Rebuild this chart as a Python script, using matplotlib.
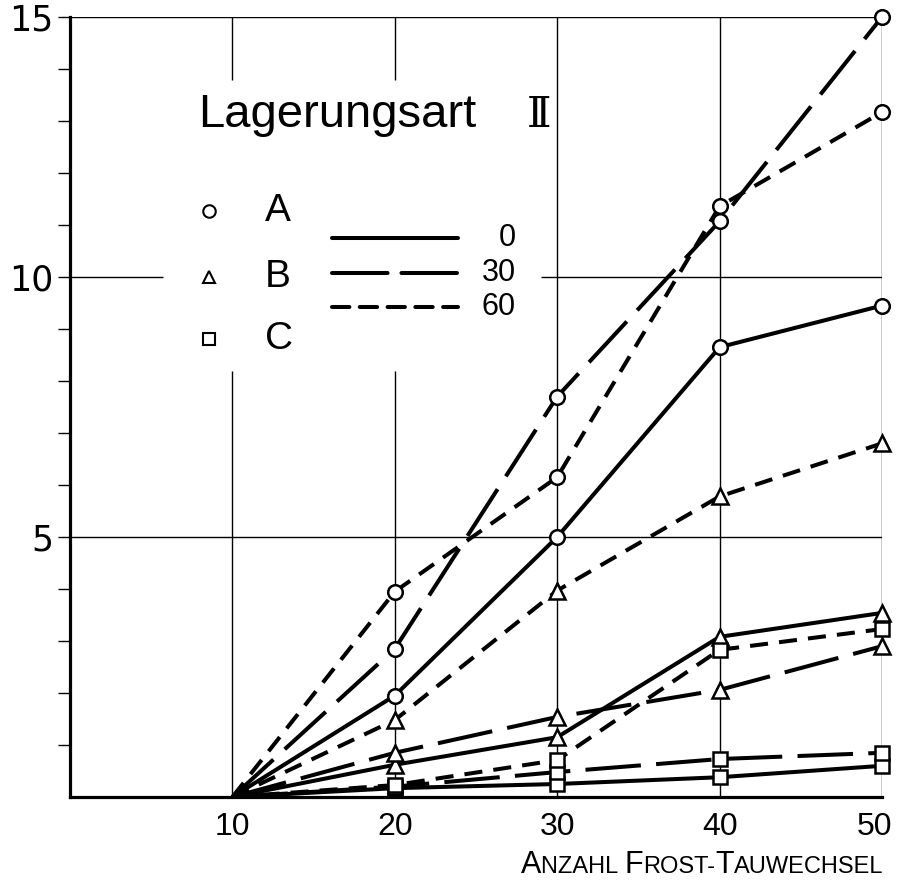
import matplotlib
matplotlib.use("Agg")
import matplotlib.pyplot as plt
from matplotlib import font_manager
from matplotlib.transforms import ScaledTranslation


def pick_font(names):
    for n in names:
        try:
            font_manager.findfont(n, fallback_to_default=False)
            return n
        except Exception:
            pass
    return "DejaVu Sans"


plt.rcParams["lines.scale_dashes"] = False
main_font = pick_font(["Liberation Sans", "DejaVu Sans"])
narrow_font = pick_font(["Liberation Sans Narrow", "Liberation Sans", "DejaVu Sans"])

# Anzahl Frost-Tauwechsel
x = [10, 20, 30, 40, 50]

# Lagerungsart II, Sorten A / B / C, Kurven 0 / 30 / 60
a_0 = [0, 1.95, 5.0, 8.65, 9.45]
a_30 = [0, 2.85, 7.7, 11.07, 15.0]
a_60 = [0, 3.95, 6.15, 11.36, 13.17]
b_0 = [0, 0.62, 1.15, 3.08, 3.54]
b_30 = [0, 0.85, 1.54, 2.06, 2.9]
b_60 = [0, 1.48, 3.97, 5.78, 6.8]
c_0 = [0, 0.17, 0.25, 0.38, 0.6]
c_30 = [0, 0.2, 0.48, 0.73, 0.85]
c_60 = [0, 0.23, 0.71, 2.83, 3.23]

sorts = ["A", "B", "C"]
markers = {"A": "o", "B": "^", "C": "s"}
curves = ["0", "30", "60"]
dashes = {"0": "-", "30": (0, (40, 11)), "60": (0, (13, 8))}
series = {
    ("A", "0"): a_0, ("A", "30"): a_30, ("A", "60"): a_60,
    ("B", "0"): b_0, ("B", "30"): b_30, ("B", "60"): b_60,
    ("C", "0"): c_0, ("C", "30"): c_30, ("C", "60"): c_60,
}

fig = plt.figure(figsize=(8.98, 8.82), dpi=100)
W, H = 898, 882
x0, x1, y0, y1 = 70, 882, 797, 17
ax = fig.add_axes([x0 / W, (H - y0) / H, (x1 - x0) / W, (y0 - y1) / H])
ax.set_xlim(0, 50)
ax.set_ylim(0, 15)

# grid (partly hidden behind the legend block)
glw = 1.0
ax.vlines([10, 20], 0, 8.2, color="black", lw=glw, zorder=1)
ax.vlines([10, 20], 13.78, 15, color="black", lw=glw, zorder=1)
ax.vlines([30, 40, 50], 0, 15, color="black", lw=glw, zorder=1)
ax.hlines([5, 15], 0, 50, color="black", lw=glw, zorder=1)
ax.hlines(10, 0, 5.7, color="black", lw=glw, zorder=1)
ax.hlines(10, 29.0, 50, color="black", lw=glw, zorder=1)

for (s, c), vals in series.items():
    ax.plot(x, vals, color="black", lw=2.9, ls=dashes[c], solid_capstyle="butt",
            dash_capstyle="butt", zorder=2, clip_on=False)
    ax.plot(x[1:], vals[1:], ls="none", marker=markers[s], ms=10.5 if s != "B" else 11,
            mfc="white", mec="black", mew=1.8, zorder=3, clip_on=False)

# spines / ticks
for side in ["top", "right"]:
    ax.spines[side].set_visible(False)
ax.spines["left"].set_linewidth(2.3)
ax.spines["bottom"].set_linewidth(2.3)
ax.set_xticks([10, 20, 30, 40, 50])
ax.set_xticklabels(["10", "20", "30", "40", "50"], fontfamily=narrow_font, fontsize=23)
ax.tick_params(axis="x", length=0, pad=11)
last = ax.get_xticklabels()[-1]
last.set_transform(last.get_transform() + ScaledTranslation(-8 / 100, 0, fig.dpi_scale_trans))
ax.set_yticks([5, 10, 15])
ax.set_yticks(range(1, 15), minor=True)
ax.set_yticklabels(["5", "10", "15"], fontfamily="DejaVu Sans", fontsize=25)
ax.tick_params(axis="y", which="both", direction="out", length=9, width=1.0, pad=3)

# legend block
tr = ax.transAxes
ax.text(0.158, 0.859, "Lagerungsart", transform=tr, fontsize=34,
        fontfamily=main_font, va="baseline", ha="left")
ax.text(0.562, 0.859, "\u2161", transform=tr, fontsize=30,
        fontfamily=["DejaVu Serif", "DejaVu Sans"],
        va="baseline", ha="left")
leg_y = [0.751, 0.667, 0.587]
for s, yy in zip(sorts, leg_y):
    ax.plot([0.171], [yy], transform=tr, marker=markers[s], ms=8 if s != "A" else 9,
            mfc="white", mec="black", mew=1.5, ls="none", clip_on=False)
    ax.text(0.240, yy, s, transform=tr, fontsize=28, fontfamily=main_font,
            va="center", ha="left")
line_y = [0.717, 0.672, 0.628]
leg_dash = {"0": "-", "30": (0, (40, 10)), "60": (0, (12.5, 7.5))}
for c, yy in zip(curves, line_y):
    ax.plot([0.323, 0.478], [yy, yy], transform=tr, color="black", lw=2.9,
            ls=leg_dash[c], solid_capstyle="round", dash_capstyle="round", clip_on=False)
    ax.text(0.549, yy, c, transform=tr, fontsize=22, fontfamily=main_font,
            va="center", ha="right")

# x label in small caps, right aligned
pieces = [("A", 22), ("NZAHL ", 17), ("F", 22), ("ROST-", 17), ("T", 22), ("AUWECHSEL", 17)]
renderer = fig.canvas.get_renderer()
texts = []
cur = 0.0
for txt, fs in pieces:
    t = fig.text(0, 0, txt, fontsize=fs, fontfamily=narrow_font, va="baseline", ha="left")
    w = t.get_window_extent(renderer).width
    texts.append((t, cur))
    cur += w
start = 883 - cur
for t, off in texts:
    t.set_position(((start + off) / W, (H - 873) / H))

fig.savefig("out.png", dpi=100)
